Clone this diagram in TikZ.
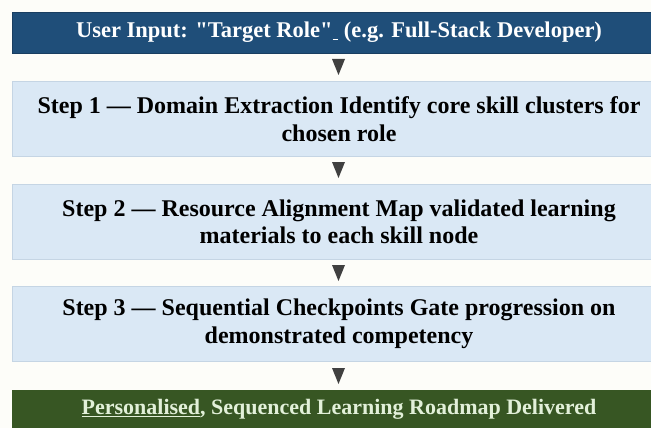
\documentclass[tikz,border=0pt]{standalone}
\usepackage{fontspec}
\setmainfont{Liberation Serif}[Ligatures=TeXOff]
\definecolor{bgcol}{HTML}{FDFDF9}
\definecolor{topblue}{HTML}{1F4E79}
\definecolor{lightblue}{HTML}{DAE8F5}
\definecolor{lightborder}{HTML}{C5D5E4}
\definecolor{darkgreen}{HTML}{375623}
\definecolor{greentext}{HTML}{E2F0D9}
\definecolor{arrowgray}{HTML}{404040}
\begin{document}
\begin{tikzpicture}[x=1pt,y=-1pt]
\useasboundingbox (0,0) rectangle (651,428);
\clip (0,0) rectangle (651,428);
\fill[bgcol] (0,0) rectangle (651,428);
\tikzset{
  basebox/.style={rectangle, minimum width=654pt, inner sep=0pt, align=center, font=\bfseries},
  headbox/.style={basebox, fill=topblue, draw=topblue!80!black, text=white, minimum height=41pt, font=\bfseries\fontsize{22.5}{26}\selectfont},
  stepbox/.style={basebox, fill=lightblue, draw=lightborder, line width=0.8pt, text=black, minimum height=75pt, font=\bfseries\fontsize{24}{27.5}\selectfont},
  endbox/.style={basebox, fill=darkgreen, draw=darkgreen, text=greentext, minimum height=38pt, font=\bfseries\fontsize{22}{26}\selectfont},
  tri/.style={fill=arrowgray}
}
\newcommand{\downtri}[1]{\fill[tri] ([xshift=-6.5pt,yshift=8pt]#1) -- ([xshift=6.5pt,yshift=8pt]#1) -- ([yshift=-8pt]#1) -- cycle;}
\node[headbox] (head) at (339,32.5) {User Input: "Target Role"\underline{\ }\ (e.g. Full-Stack Developer)};
\coordinate (a1) at (338.5,67);
\node[stepbox] (s1) at (339,119) {Step 1 — Domain Extraction Identify core skill clusters for\\chosen role};
\coordinate (a2) at (338.5,170);
\node[stepbox] (s2) at (339,222) {Step 2 — Resource Alignment Map validated learning\\materials to each skill node};
\coordinate (a3) at (338.5,273);
\node[stepbox] (s3) at (339,324) {Step 3 — Sequential Checkpoints Gate progression on\\demonstrated competency};
\coordinate (a4) at (338.5,376);
\node[endbox] (fin) at (339,409) {\underline{Personalised}, Sequenced Learning Roadmap Delivered};
\downtri{a1}\downtri{a2}\downtri{a3}\downtri{a4}
\end{tikzpicture}
\end{document}
